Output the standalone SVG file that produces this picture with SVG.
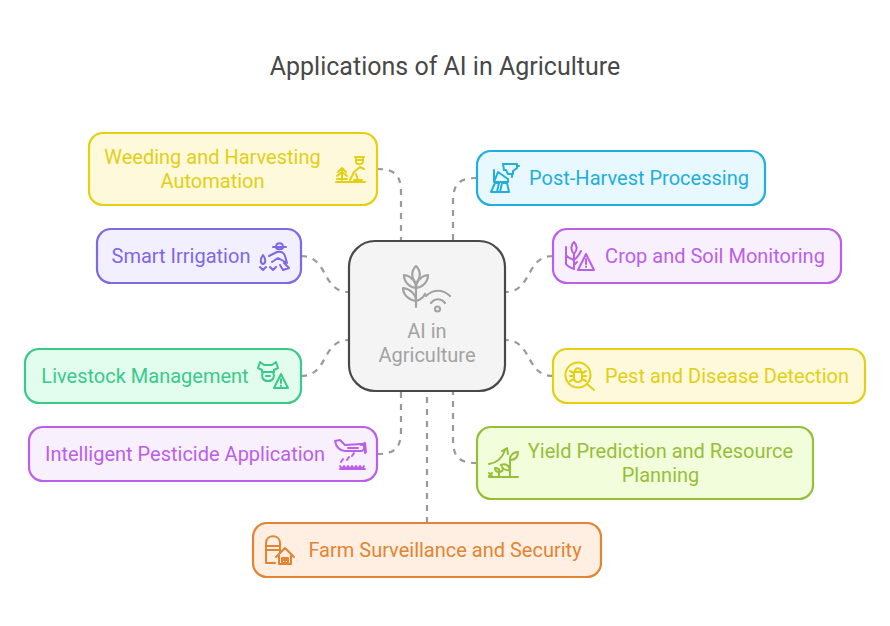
<svg xmlns="http://www.w3.org/2000/svg" width="890" height="626" viewBox="0 0 890 626">
<style>
text{font-family:Roboto,"Liberation Sans",sans-serif;font-size:20px;text-anchor:middle}
.box{stroke-width:2.2}
.ic{fill:none;stroke-width:2;stroke-linecap:round;stroke-linejoin:round}
.c{fill:none;stroke:#999;stroke-width:2.2;stroke-dasharray:6 6}
.y .box{fill:#fef9db;stroke:#e3cf14}.y text{fill:#e3cf14}.y .ic{stroke:#e3cf14}
.v .box{fill:#f2f0fe;stroke:#7f67e6}.v text{fill:#7f67e6}.v .ic{stroke:#7f67e6}
.g .box{fill:#e2fdee;stroke:#3bc98a}.g text{fill:#3bc98a}.g .ic{stroke:#3bc98a}
.p .box{fill:#f9f0fe;stroke:#bb5fe8}.p text{fill:#bb5fe8}.p .ic{stroke:#bb5fe8}
.o .box{fill:#ffefe2;stroke:#e28431}.o text{fill:#e28431}.o .ic{stroke:#e28431}
.b .box{fill:#e7f9ff;stroke:#22aedd}.b text{fill:#22aedd}.b .ic{stroke:#22aedd}
.l .box{fill:#f2fddc;stroke:#96bf38}.l text{fill:#96bf38}.l .ic{stroke:#96bf38}
</style>
<text x="445" y="75" style="font-size:25px" fill="#484848">Applications of AI in Agriculture</text>
<g id="connectors">
<path class="c" d="M377 169C395 169 401 175 401 193V241"/>
<path class="c" d="M477 178C459 178 453 184 453 202V241"/>
<path class="c" d="M301 256C329 256 321 292 349 292"/>
<path class="c" d="M301 376C329 376 321 340 349 340"/>
<path class="c" d="M553 256C525 256 533 292 505 292"/>
<path class="c" d="M553 376C525 376 533 340 505 340"/>
<path class="c" d="M377 454C395 454 401 448 401 430V391"/>
<path class="c" d="M477 463C459 463 453 457 453 439V391"/>
<path class="c" d="M427 523V391"/>
</g>
<g id="center">
<rect x="349" y="241" width="156" height="150" rx="26" fill="#f4f4f4" stroke="#484848" stroke-width="2.2"/>
<g fill="none" stroke="#a3a3a3" stroke-width="2.200" stroke-linecap="round" stroke-linejoin="round">
<path d="M416 307V283M416 266C411 271 411 278 416 283C421 278 421 271 416 266Z"/>
<path d="M404 275C404 282 409 287 416 288C416 281 411 276 404 275ZM428 275C428 282 423 287 416 288C416 281 421 276 428 275Z"/>
<path d="M403 288C403 295 409 300 416 301C416 294 410 289 403 288ZM416 301C420 300 423 298 425 294"/>
<path d="M426 296C433 289 443 289 450 296M431 303C435 298 441 298 445 303"/>
<circle cx="437.500" cy="309" r="2.500"/>
</g>
<text x="427" y="338" fill="#a3a3a3">AI in</text>
<text x="427" y="362" fill="#a3a3a3">Agriculture</text>
</g>
<g id="weeding" class="y">
<rect class="box" x="89" y="133" width="288" height="72" rx="14"/>
<text x="212.500" y="164">Weeding and Harvesting</text>
<text x="212.500" y="188">Automation</text>
<path class="ic" d="M336 182H365M342 180V168M338 172L342 168L346 172M337 176L342 172L347 176M337 179H347M350 180L354 172L360 167L364 169M354 180H362M356 174L358 180M355 157H364M356 157V162C357 165 362 165 363 162V157M356 160H363"/>
</g>
<g id="irrigation" class="v">
<rect class="box" x="97" y="229" width="204" height="54" rx="14"/>
<text x="181" y="263">Smart Irrigation</text>
<path class="ic" d="M273 247H286M276 247C276 242 283 242 283 247C283 250 276 250 276 247M269 256L277 252C281 251 284 253 285 256L287 263L278 258L272 262M284 263L289 268L283 270L280 265"/>
<path class="ic" d="M263 255C260 259 260 263 263 264C266 263 266 259 263 255ZM260 267L263 270L266 267M270 267L273 270L276 267"/>
</g>
<g id="livestock" class="g">
<rect class="box" x="25" y="349" width="276" height="54" rx="14"/>
<text x="145" y="383">Livestock Management</text>
<path class="ic" d="M260 362L264 365H272L276 362L278 368L274 370V372H262V370L258 368Z"/>
<path class="ic" d="M263 372C261 376 262 381 268 381C274 381 275 376 273 372M266 376H270"/>
<path class="ic" d="M281 374L288 388H274ZM281 379V383M281 385.500V386"/>
</g>
<g id="pesticide" class="p">
<rect class="box" x="29" y="427" width="348" height="54" rx="14"/>
<text x="185" y="461">Intelligent Pesticide Application</text>
<path class="ic" d="M335 441L340 440L345 445L362 444C365 446 365 449 362 451H345C340 451 336 447 335 441ZM348 448H358M365 443V453M361 445L365 443L366 452"/>
<path class="ic" d="M340 469H365M340 466L342 469L344 466L346 469L348 466L350 469L352 466L354 469L356 466L358 469L360 466L362 469L364 466M341 462L343 459M347 460L349 457M352 456L354 453"/>
</g>
<g id="farm" class="o">
<rect class="box" x="253" y="523" width="348" height="54" rx="14"/>
<text x="445" y="557">Farm Surveillance and Security</text>
<path class="ic" d="M266 563V543C266 534 280 534 280 543V553M266 546H280M266 550H280M266 563H275"/>
<path class="ic" d="M276 557L285 548L294 557M279 555V564H291V555M282 564V558H288V564M282 558L288 564M288 558L282 564"/>
</g>
<g id="post" class="b">
<rect class="box" x="477" y="151" width="288" height="54" rx="14"/>
<text x="639" y="185">Post-Harvest Processing</text>
<path class="ic" d="M503 164H517V168L513 171V174H508L506 170H504ZM517 166H519M512 174V177"/>
<path class="ic" d="M494 170V182H508V179L498 172L494 182M491 192L495 183H499L497 192ZM502 183H507L509 192H500ZM491 192H509"/>
</g>
<g id="crop" class="p">
<rect class="box" x="553" y="229" width="288" height="54" rx="14"/>
<text x="715" y="263">Crop and Soil Monitoring</text>
<path class="ic" d="M574 242C571 245 570 250 574 254C578 250 577 245 574 242ZM574 254V269M566 247V255C568 258 571 259 574 260M566 256V264C568 267 571 268 574 269M581 251C579 255 577 258 574 260M577 262L574 265"/>
<path class="ic" d="M586 254L594 270H578ZM586 259V264M586 266.500V267"/>
</g>
<g id="pest" class="y">
<rect class="box" x="553" y="349" width="312" height="54" rx="14"/>
<text x="727" y="383">Pest and Disease Detection</text>
<circle class="ic" cx="578" cy="375" r="12.500"/>
<path class="ic" d="M587 384L594 390M574 372H582V379C581 383 575 383 574 379ZM575 372C575 367 581 367 581 372M570 371L574 373M586 371L582 373M570 376H574M586 376H582M570 381L574 379M586 381L582 379"/>
</g>
<g id="yield" class="l">
<rect class="box" x="477" y="427" width="336" height="72" rx="14"/>
<text x="660.500" y="458">Yield Prediction and Resource</text>
<text x="660.500" y="482">Planning</text>
<path class="ic" d="M489 477H518M489 464C497 463 502 459 505 450M502 451L507 448L508 454M510 477V459C510 455 514 452 518 452C518 457 515 460 510 460M510 470C505 471 502 468 501 465C505 463 509 465 510 470M499 477V472M499 472C496 472 495 470 495 468C498 468 500 469 499 472C502 472 503 470 503 468M489 473L492 476M492 473L489 476"/>
</g>
</svg>
